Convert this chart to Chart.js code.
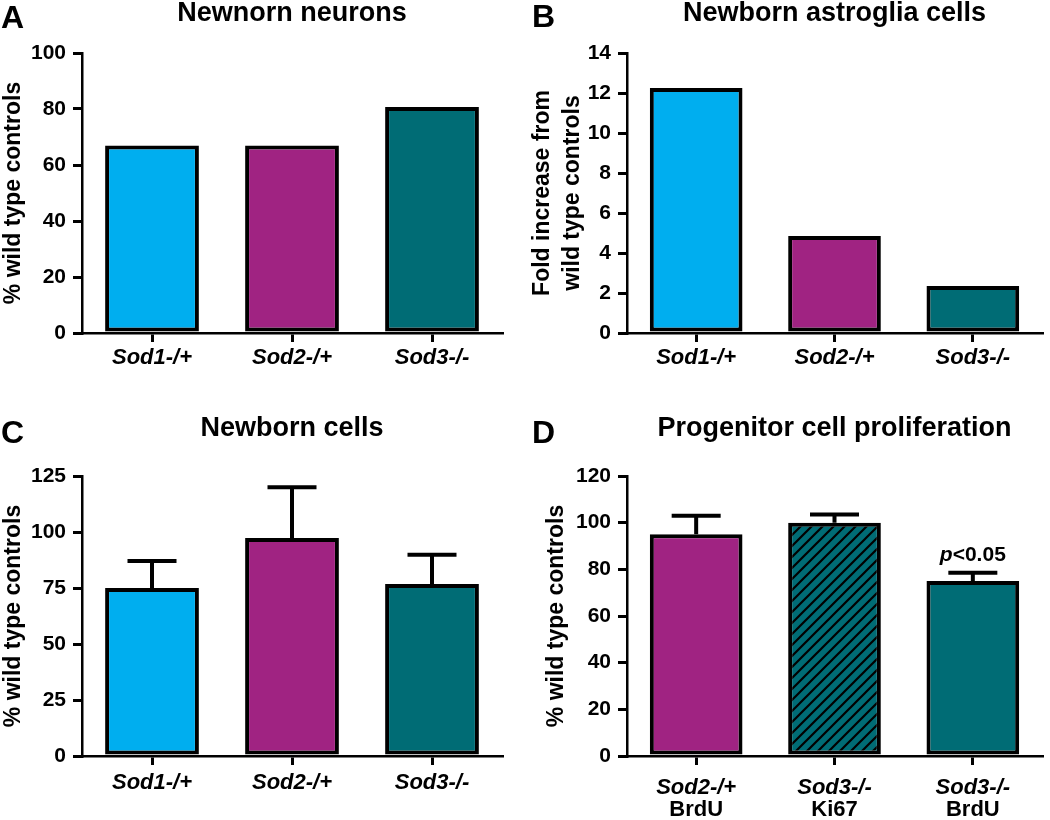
<!DOCTYPE html>
<html><head><meta charset="utf-8">
<script src="https://cdn.jsdelivr.net/npm/chart.js@4.4.0/dist/chart.umd.min.js"></script>
<style>
html,body{margin:0;padding:0;background:#fff;width:1050px;height:820px;overflow:hidden}
.p{position:absolute}
canvas{display:block}
</style></head><body>
<div class="p" style="left:0;top:0"><canvas id="cA" width="520" height="400"></canvas></div>
<div class="p" style="left:520px;top:0"><canvas id="cB" width="530" height="400"></canvas></div>
<div class="p" style="left:0;top:400px"><canvas id="cC" width="520" height="420"></canvas></div>
<div class="p" style="left:520px;top:400px"><canvas id="cD" width="530" height="420"></canvas></div>
<script>
// ---------- DATA ----------
const genotypes = ["Sod1-/+", "Sod2-/+", "Sod3-/-"];
const neuronValues = [67, 67, 80.7];
const astrogliaValues = [12.25, 4.85, 2.35];
const newbornValues = [75, 97.3, 76.8];
const newbornErrors = [12, 22.7, 13];
const prolifGenotypes = ["Sod2-/+", "Sod3-/-", "Sod3-/-"];
const prolifMarkers = ["BrdU", "Ki67", "BrdU"];
const prolifValues = [95, 100, 75];
const prolifErrors = [8, 3.5, 3.5];
const ticksA = [0, 20, 40, 60, 80, 100];
const ticksB = [0, 2, 4, 6, 8, 10, 12, 14];
const ticksC = [0, 25, 50, 75, 100, 125];
const ticksD = [0, 20, 40, 60, 80, 100, 120];

// ---------- STYLE ----------
const CYAN = '#00AEEF', MAGENTA = '#A02382', TEAL = '#006C75';
const FONT = "'Liberation Sans', Arial, Helvetica, sans-serif";
Chart.defaults.font.family = FONT;
Chart.defaults.font.weight = 'bold';
Chart.defaults.color = '#000';

function hatch(){
  const s = 11, c = document.createElement('canvas');
  c.width = s; c.height = s;
  const g = c.getContext('2d');
  g.fillStyle = TEAL; g.fillRect(0,0,s,s);
  g.strokeStyle = '#000'; g.lineWidth = 2.2;
  g.beginPath();
  g.moveTo(0,s); g.lineTo(s,0);
  g.moveTo(-2,2); g.lineTo(2,-2);
  g.moveTo(s-2,s+2); g.lineTo(s+2,s-2);
  g.stroke();
  return g.createPattern(c,'repeat');
}

const extras = {
  id: 'extras',
  afterDatasetsDraw(chart, args, o){
    const ctx = chart.ctx, ys = chart.scales.y, xs = chart.scales.x;
    ctx.save();
    chart.data.datasets.forEach((ds, di) => {
      if (!ds.errors) return;
      const meta = chart.getDatasetMeta(di);
      meta.data.forEach((bar, i) => {
        const base = ys.getPixelForValue(ds.data[i]);
        const top = ys.getPixelForValue(ds.data[i] + ds.errors[i]);
        ctx.strokeStyle = '#000'; ctx.lineWidth = 4; ctx.lineCap = 'butt';
        ctx.beginPath();
        ctx.moveTo(bar.x, base); ctx.lineTo(bar.x, top);
        ctx.moveTo(bar.x - 24.5, top); ctx.lineTo(bar.x + 24.5, top);
        ctx.stroke();
      });
    });
    if (o.annot) {
      const ds = chart.data.datasets[0];
      const i = o.annot.index;
      const bar = chart.getDatasetMeta(0).data[i];
      const y = ys.getPixelForValue(ds.data[i] + ds.errors[i]) - 18;
      ctx.textBaseline = 'middle';
      ctx.font = 'italic bold 21px ' + FONT;
      const w1 = ctx.measureText('p').width;
      ctx.font = 'bold 21px ' + FONT;
      const w2 = ctx.measureText(o.annot.text).width;
      let x = bar.x - (w1 + w2) / 2;
      ctx.fillStyle = '#000'; ctx.textAlign = 'left';
      ctx.font = 'italic bold 21px ' + FONT;
      ctx.fillText('p', x, y);
      ctx.font = 'bold 21px ' + FONT;
      ctx.fillText(o.annot.text, x + w1, y);
    }
    if (o.second) {
      ctx.font = 'bold 22px ' + FONT;
      ctx.textAlign = 'center'; ctx.textBaseline = 'middle'; ctx.fillStyle = '#000';
      o.second.forEach((t, i) => {
        ctx.fillText(t, xs.getPixelForTick(i), xs.top + o.secondY);
      });
    }
    ctx.restore();
  },
  afterDraw(chart, args, o){
    const ctx = chart.ctx;
    ctx.save();
    ctx.font = 'bold 32px ' + FONT;
    ctx.fillStyle = '#000'; ctx.textAlign = 'left'; ctx.textBaseline = 'alphabetic';
    ctx.fillText(o.letter, o.lx, o.ly);
    ctx.restore();
  }
};

function makeChart(id, cfg){
  const yTitle = {display:true, text:cfg.yTitle, color:'#000',
    font:{size:23, weight:'bold', lineHeight:cfg.yTitleLH || 1.2}, padding:{top:cfg.yTitlePad, bottom:0}};
  return new Chart(document.getElementById(id), {
    type: 'bar',
    data: {
      labels: cfg.labels,
      datasets: [{
        data: cfg.values,
        errors: cfg.errors,
        backgroundColor: cfg.colors,
        borderColor: '#000', borderWidth: 4, borderSkipped: false,
        barPercentage: 0.67, categoryPercentage: 1
      }]
    },
    options: {
      responsive: false, animation: false, devicePixelRatio: 1,
      layout: {padding: {left:0, right:cfg.padRight, top:0, bottom:0}},
      plugins: {
        legend: {display:false}, tooltip: {enabled:false},
        title: {display:true, text:cfg.title, fullSize:false, color:'#000',
          font:{size:27, weight:'bold', lineHeight:1}, padding:{top:cfg.titleTop, bottom:cfg.titleBottom}},
        extras: {letter:cfg.letter, lx:cfg.lx, ly:cfg.ly, annot:cfg.annot, second:cfg.second, secondY:cfg.secondY}
      },
      scales: {
        x: {
          ticks: {color:'#000', font:{size:22, weight:'bold', style:'italic'}, padding:cfg.xPad, maxRotation:0, autoSkip:false},
          grid: {drawOnChartArea:false, color:'#000', lineWidth:3, tickLength:9, offset:false},
          border: {color:'#000', width:2.5},
          afterFit(s){ s.height = cfg.xHeight; }
        },
        y: {
          min: cfg.ticks[0], max: cfg.ticks[cfg.ticks.length-1],
          afterBuildTicks(s){ s.ticks = cfg.ticks.map(v => ({value:v})); },
          ticks: {color:'#000', font:{size:21, weight:'bold'}, padding:7},
          grid: {drawOnChartArea:false, color:'#000', lineWidth:3, tickLength:9},
          border: {color:'#000', width:2.5},
          title: yTitle,
          afterFit(s){ s.width = cfg.yWidth; }
        }
      }
    },
    plugins: [extras]
  });
}

makeChart('cA', {labels:genotypes, values:neuronValues, colors:[CYAN,MAGENTA,TEAL],
  title:'Newnorn neurons', yTitle:'% wild type controls', yTitlePad:0, ticks:ticksA,
  yWidth:82, padRight:18, titleTop:0, titleBottom:26, xHeight:67, xPad:3,
  letter:'A', lx:1, ly:28});
makeChart('cB', {labels:genotypes, values:astrogliaValues, colors:[CYAN,MAGENTA,TEAL],
  title:'Newborn astroglia cells', yTitle:['Fold increase from','wild type controls'], yTitleLH:1.3, yTitlePad:8, ticks:ticksB,
  yWidth:107, padRight:8, titleTop:0, titleBottom:26, xHeight:67, xPad:3,
  letter:'B', lx:12, ly:27});
makeChart('cC', {labels:genotypes, values:newbornValues, errors:newbornErrors, colors:[CYAN,MAGENTA,TEAL],
  title:'Newborn cells', yTitle:'% wild type controls', yTitlePad:0, ticks:ticksC,
  yWidth:82, padRight:18, titleTop:15, titleBottom:34, xHeight:64, xPad:5,
  letter:'C', lx:1, ly:43});
makeChart('cD', {labels:prolifGenotypes, values:prolifValues, errors:prolifErrors, colors:[MAGENTA,hatch(),TEAL],
  title:'Progenitor cell proliferation', yTitle:'% wild type controls', yTitlePad:23, ticks:ticksD,
  yWidth:107, padRight:8, titleTop:15, titleBottom:34, xHeight:64, xPad:10,
  letter:'D', lx:12, ly:43, annot:{index:2, text:'<0.05'}, second:prolifMarkers, secondY:53.5});
</script>
</body></html>
